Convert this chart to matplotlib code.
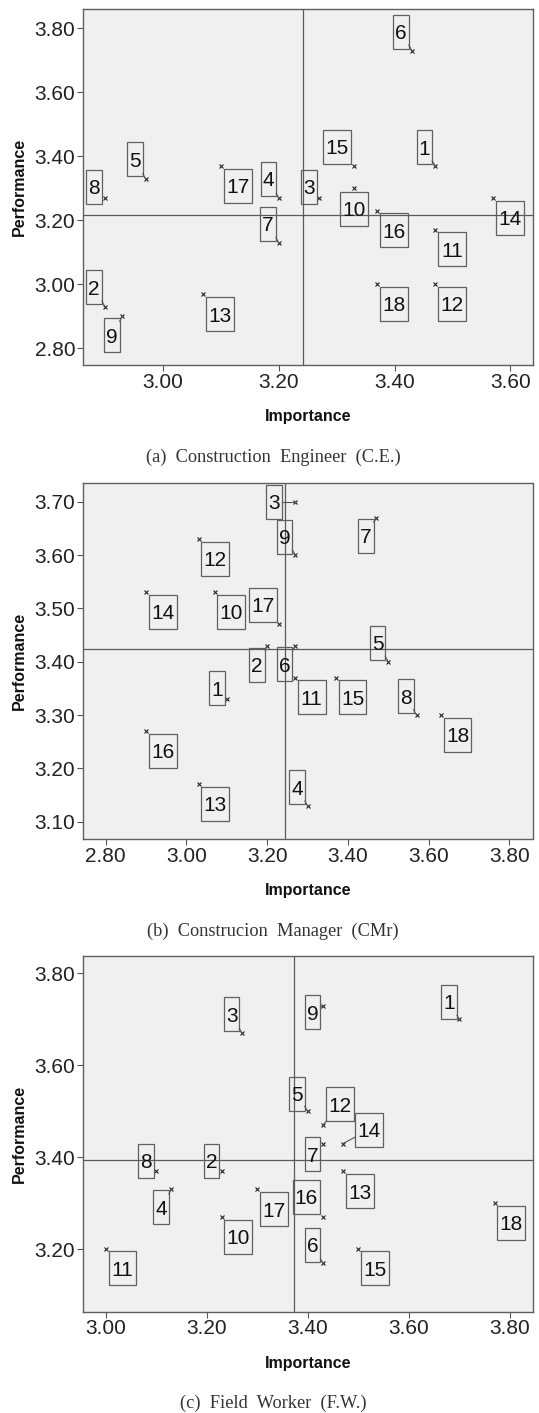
import numpy as np
import matplotlib
matplotlib.use("Agg")
import matplotlib.pyplot as plt
from matplotlib import transforms
from matplotlib.patches import Rectangle
from matplotlib.lines import Line2D
from matplotlib.ticker import FormatStrFormatter

plt.rcParams['font.family'] = ['Liberation Sans', 'DejaVu Sans']

# item numbers 1..18
ids = list(range(1, 19))

# (a) Construction Engineer (C.E.)
imp_a = [3.47, 2.90, 3.27, 3.20, 2.97, 3.43, 3.20, 2.90, 2.93, 3.33, 3.47, 3.47, 3.07, 3.57, 3.33, 3.37, 3.10, 3.37]
perf_a = [3.37, 2.93, 3.27, 3.27, 3.33, 3.73, 3.13, 3.27, 2.90, 3.30, 3.17, 3.00, 2.97, 3.27, 3.37, 3.23, 3.37, 3.00]

# (b) Construcion Manager (CMr)
imp_b = [3.10, 3.20, 3.27, 3.30, 3.50, 3.27, 3.47, 3.57, 3.27, 3.07, 3.27, 3.03, 3.03, 2.90, 3.37, 2.90, 3.23, 3.63]
perf_b = [3.33, 3.43, 3.70, 3.13, 3.40, 3.43, 3.67, 3.30, 3.60, 3.53, 3.37, 3.63, 3.17, 3.53, 3.37, 3.27, 3.47, 3.30]

# (c) Field Worker (F.W.)
imp_c = [3.70, 3.23, 3.27, 3.13, 3.40, 3.43, 3.43, 3.10, 3.43, 3.23, 3.00, 3.43, 3.47, 3.47, 3.50, 3.43, 3.30, 3.77]
perf_c = [3.70, 3.37, 3.67, 3.33, 3.50, 3.17, 3.43, 3.37, 3.73, 3.27, 3.20, 3.47, 3.37, 3.43, 3.20, 3.27, 3.33, 3.30]

xt_a = [3.00, 3.20, 3.40, 3.60]
yt_a = [2.80, 3.00, 3.20, 3.40, 3.60, 3.80]
xt_b = [2.80, 3.00, 3.20, 3.40, 3.60, 3.80]
yt_b = [3.10, 3.20, 3.30, 3.40, 3.50, 3.60, 3.70]
xt_c = [3.00, 3.20, 3.40, 3.60, 3.80]
yt_c = [3.20, 3.40, 3.60, 3.80]

cap_a = "(a)  Construction  Engineer  (C.E.)"
cap_b = "(b)  Construcion  Manager  (CMr)"
cap_c = "(c)  Field  Worker  (F.W.)"

# label box offsets from the point, in pixels (x right, y up)
offs_a = [(-10.8, 18.5), (-10.8, 19.5), (-10.2, 11.2), (-10.3, 19), (-10.5, 19.3), (-11, 18.7),
          (-10.7, 18.7), (-11, 11.3), (-10.5, -19), (0, -20.5), (16.7, -19.5), (16.7, -19.7),
          (16.6, -20.5), (16.8, -19.8), (-16.8, 19.3), (16.7, -19.7), (17, -19.7), (16.7, -19.7)]
offs_b = [(-10, 10.7), (-10, -19), (-21.2, 0), (-10.4, 18.4), (-10.8, 18.7), (-10.7, -18.7),
          (-10.3, -18.3), (-10.8, 18.7), (-10.7, 18), (16.7, -19.7), (16.3, -19.7), (16.7, -19.7),
          (16.7, -19.7), (16.6, -19.7), (16.7, -19.7), (17, -19.6), (-16.3, 19.7), (16.7, -20)]
offs_c = [(-10.1, 17.5), (-10.5, 10), (-10.5, 19), (-10.3, -18), (-10.8, 17.8), (-10.2, 18),
          (-10.2, -10.7), (-10.2, 10), (-10.2, -6.8), (16.5, -19.6), (16.8, -19.2), (17.5, 21),
          (17, -20.3), (26, 13.8), (16.7, -19.3), (-16.4, 20), (16.7, -19.7), (16.5, -19.5)]

lead_a = [1, 2, 4, 5, 6, 7, 9]
lead_b = [2, 3, 4, 5, 6, 7, 8, 9]
lead_c = [1, 3, 4, 5, 6, 9, 12, 14]

W, H, DPI = 539, 1413, 100
fig = plt.figure(figsize=(W / DPI, H / DPI), dpi=DPI)
fig.patch.set_facecolor('white')


def fy(py):
    return 1 - py / H


def draw_panel(rect_px, imp, perf, offs, lead, xlim, ylim, xt, yt, caption):
    left, top, right, bottom = rect_px
    ax = fig.add_axes([left / W, fy(bottom), (right - left) / W, (bottom - top) / H])
    ax.set_facecolor('#f0f0f0')
    ax.set_xlim(*xlim)
    ax.set_ylim(*ylim)
    ax.set_xticks(xt)
    ax.set_yticks(yt)
    ax.xaxis.set_major_formatter(FormatStrFormatter('%.2f'))
    ax.yaxis.set_major_formatter(FormatStrFormatter('%.2f'))
    ax.tick_params(direction='out', length=4.5, width=0.8, color='#555555',
                   labelsize=15, labelcolor='#222222', pad=1)
    for sp in ax.spines.values():
        sp.set_color('#606060')
        sp.set_linewidth(1.0)

    # mean reference lines
    ax.axvline(np.mean(imp), color='#5a5a5a', lw=0.9, zorder=1)
    ax.axhline(np.mean(perf), color='#5a5a5a', lw=0.9, zorder=1)

    ax.plot(imp, perf, 'x', ms=3.5, mew=0.8, color='#222222', zorder=3)

    for k, (x, y) in enumerate(zip(imp, perf)):
        lab = str(ids[k])
        dx, dy = offs[k]
        hw = 7.75 if len(lab) == 1 else 13.9
        hh = 17
        tr = fig.dpi_scale_trans + transforms.ScaledTranslation(x, y, ax.transData)
        ax.add_artist(Rectangle(((dx - hw) / DPI, (dy - hh) / DPI), 2 * hw / DPI, 2 * hh / DPI,
                                transform=tr, fill=False, ec='#606060', lw=0.9, zorder=4))
        ax.text(dx / DPI, (dy - 7.4) / DPI, lab, transform=tr, ha='center', va='baseline',
                fontsize=15, color='#111111', zorder=5)
        if ids[k] in lead:
            tx = hw / abs(dx) if dx else np.inf
            ty = hh / abs(dy) if dy else np.inf
            t = min(tx, ty)
            ex, ey = dx * (1 - t), dy * (1 - t)
            ax.add_artist(Line2D([ex / DPI, 0], [ey / DPI, 0], transform=tr,
                                 color='#555555', lw=0.8, zorder=4))

    cx = (left + right) / 2
    fig.text(cx / W, fy(bottom + 52), 'Importance', ha='center', va='center',
             fontsize=11.5, fontweight='bold', color='#111111')
    fig.text(19 / W, fy((top + bottom) / 2), 'Performance', ha='center', va='center',
             rotation=90, fontsize=11.5, fontweight='bold', color='#111111')
    fig.text(273 / W, fy(bottom + 92), caption, ha='center', va='center',
             fontsize=13.2, color='#333333', family=['Liberation Serif', 'DejaVu Serif'])
    return ax


draw_panel((83, 9, 532.5, 365), imp_a, perf_a, offs_a, lead_a,
           (2.862, 3.638), (2.748, 3.860), xt_a, yt_a, cap_a)
draw_panel((83, 483.3, 532.5, 839), imp_b, perf_b, offs_b, lead_b,
           (2.744, 3.857), (3.0675, 3.7345), xt_b, yt_b, cap_b)
draw_panel((83, 956, 533, 1311.7), imp_c, perf_c, offs_c, lead_c,
           (2.955, 3.846), (3.064, 3.838), xt_c, yt_c, cap_c)

fig.savefig('out.png', dpi=DPI)
